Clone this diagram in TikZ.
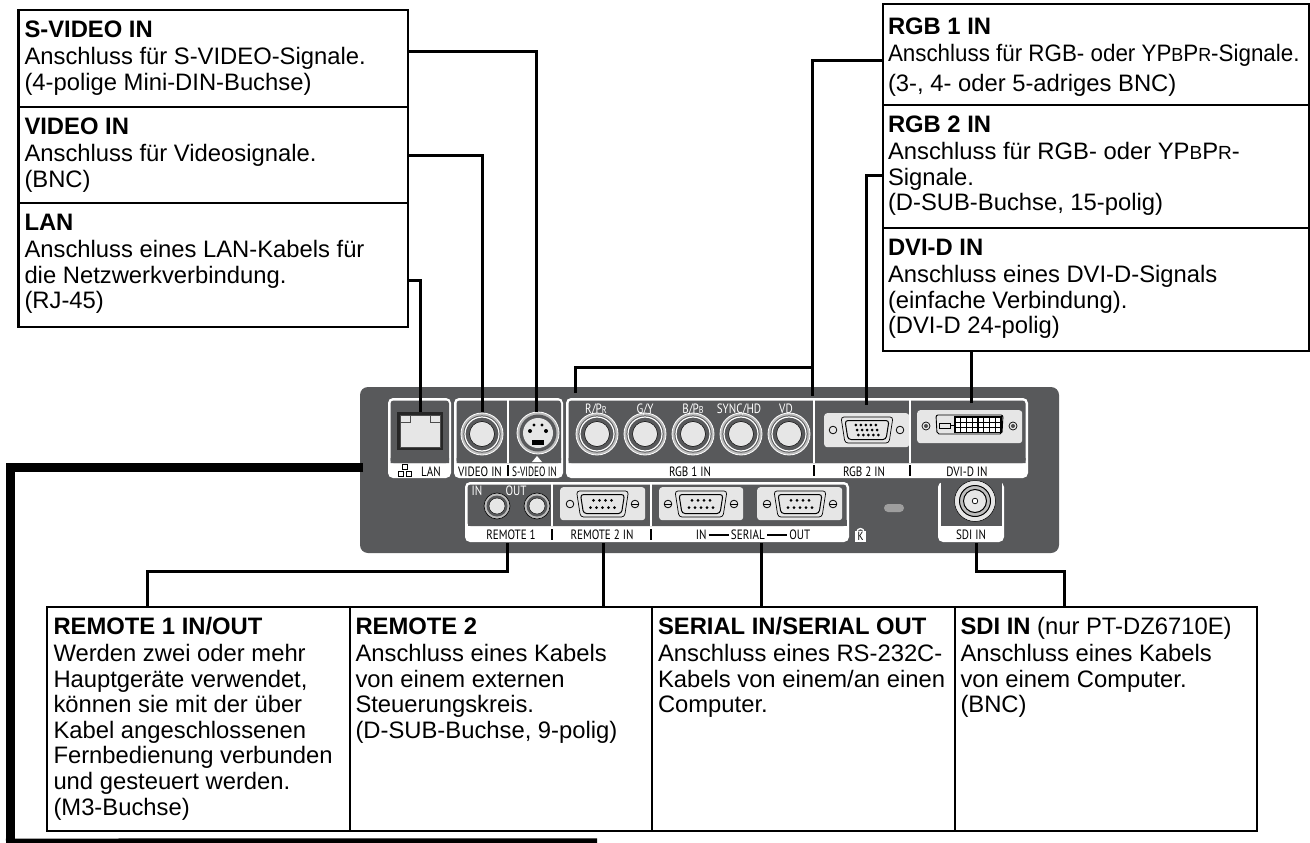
\documentclass[tikz,border=0pt]{standalone}
\usepackage{fontspec}
\usepackage{graphicx}
\setmainfont{Liberation Sans}
\newfontfamily\panelfont[FakeStretch=0.82]{PT Sans}
\usetikzlibrary{calc}
\definecolor{paneldark}{HTML}{58595B}
\definecolor{plate}{HTML}{E6E6E6}
\definecolor{ringgray}{HTML}{BDBDBD}
\tikzset{
  infobox/.style={draw=black,line width=2.4pt,anchor=north west,inner sep=0pt,outer sep=0pt,font=\fontsize{23.8}{25.6}\selectfont},
  conn/.style={draw=black,line width=3pt,line cap=butt,line join=miter},
  plabel/.style={font=\panelfont\fontsize{13.5}{14}\selectfont,text=#1,inner sep=0pt,anchor=base},
  plabel/.default=black,
  frameout/.style={fill=white,rounded corners=5pt,draw=none},
  frameinner/.style={fill=paneldark,draw=none},
}
% name, x, y, w, h, padding x, drop, text
\newcommand{\infonode}[8]{%
  \node[infobox,minimum width=#4pt,minimum height=#5pt] (#1) at (#2,#3)
  {\parbox[c][#5pt][t]{#4pt}{\leavevmode\vspace*{#7pt}\par\hspace*{#6pt}\begin{tabular}[t]{@{}l@{}}#8\end{tabular}}};}
\newcommand{\hd}[1]{\textbf{#1}\rule[-9pt]{0pt}{9pt}\\}
\newcommand{\sm}[1]{{\fontsize{19}{20}\selectfont #1}}
\newcommand{\bnc}[3]{%
  \node[circle,minimum size=42pt,inner sep=0pt,fill=ringgray,draw=white,line width=.8pt] (#1) at (#2,#3) {};
  \fill[paneldark] (#2,#3) circle[radius=18.6];
  \draw[white,line width=1.2pt] (#2,#3) circle[radius=17];
  \fill[plate,draw=black,line width=.5pt] (#2,#3) circle[radius=12.5];}
\newcommand{\dsub}[4]{% x,y,halfwidth,pins
  \begin{scope}[shift={(#1,#2)}]
   \draw[fill=plate,draw=black,line width=.7pt,rounded corners=3pt] (-#3,-13) -- (#3,-13) -- (#3-4,13) -- (-#3+4,13) -- cycle;
   \draw[fill=plate,draw=black,line width=1pt,rounded corners=3pt] (-#3+4,-9.5) -- (#3-4,-9.5) -- (#3-7,9.5) -- (-#3+7,9.5) -- cycle;
   #4
  \end{scope}}
\newcommand{\plate}[5]{\node[anchor=north west,minimum width=#4pt,minimum height=#5pt,inner sep=0pt,rounded corners=3pt,fill=plate,draw=none] (#1) at (#2,#3) {};}
\newcommand{\nine}{\foreach \px in {-9,-3,3,9}{\fill (\px,-3.6) circle[radius=1.5];}\foreach \px in {-12,-6,0,6,12}{\fill (\px,3.6) circle[radius=1.5];}}
\newcommand{\fifteen}{\foreach \py in {-5,0,5}{\foreach \px in {-10,-5,0,5,10}{\fill (\px+\py*.25,\py) circle[radius=1.5];}}}
\newcommand{\hole}[2]{\draw[fill=plate,draw=black,line width=.8pt] (#1,#2) circle[radius=3.8];}
\newcommand{\slothole}[2]{\draw[fill=plate,draw=black,line width=.8pt] (#1,#2) circle[radius=3.8];\draw[black,line width=.6pt] (#1-3.8,#2)--(#1+3.8,#2);}
\begin{document}
\begin{tikzpicture}[x=1pt,y=-1pt]
\useasboundingbox (0,0) rectangle (1310,843);
\fill[white] (0,0) rectangle (1310,843);
% ---------- panel
\fill[paneldark,rounded corners=8pt] (360,387) rectangle (1059,553);
% upper frames
\fill[frameout] (388,398) rectangle (451,478);
\fill[frameinner,rounded corners=3pt] (390.5,400.5) rectangle (449,463);
\fill[frameout] (454,398) rectangle (563,478);
\fill[frameinner,rounded corners=3pt] (456.5,400.5) rectangle (561,463);
\fill[frameout] (566,398) rectangle (1028,478);
\fill[frameinner,rounded corners=3pt] (568.5,400.5) rectangle (1025.5,463);
\fill[paneldark] (390.5,458) rectangle (449,463) (456.5,458) rectangle (561,463) (568.5,458) rectangle (1025.5,463);
\draw[white,line width=1.2pt] (508,400) -- (508,463) (814,400) -- (814,463) (910,400) -- (910,463);
\draw[black,line width=2pt] (508,465) -- (508,476) (814,465) -- (814,476) (910,465) -- (910,476);
% lower frames
\fill[frameout] (465,482) rectangle (849,542);
\fill[frameinner,rounded corners=3pt] (467.5,484.5) rectangle (846.5,526);
\fill[paneldark] (467.5,520) rectangle (846.5,526);
\draw[white,line width=1.2pt] (552,484) -- (552,526) (651,484) -- (651,526);
\draw[black,line width=2pt] (552,529) -- (552,540) (651,529) -- (651,540);
\fill[frameout] (938,482) rectangle (1004,542);
\fill[paneldark] (940.5,480) rectangle (1001.5,526);
% LAN jack
\node[anchor=north west,minimum width=46pt,minimum height=38pt,inner sep=0pt,fill=black!85] (lanjack) at (397,412) {};
\fill[plate] (400,415) rectangle (440,447);
\draw[black!70,line width=.6pt] (400,415) rectangle (440,447) (400,422) -- (410,422) -- (410,415) (430,415) -- (430,422) -- (440,422);
% jacks
\bnc{videojack}{482}{434}
\bnc{rjack}{597}{434}
\bnc{gjack}{645}{434}
\bnc{bjack}{693}{434}
\bnc{syncjack}{741}{434}
\bnc{vdjack}{789}{434}
% S-Video
\node[circle,minimum size=42pt,inner sep=0pt,fill=ringgray,draw=white,line width=.8pt] (svideojack) at (538,433) {};
\fill[paneldark] (538,433) circle[radius=18.5];
\fill[plate] (538,433) circle[radius=15];
\fill[black] (532,440) rectangle (544,445);
\fill[black] (530,431) circle[radius=2] (546,431) circle[radius=2] (534,425) circle[radius=1.6] (542,425) circle[radius=1.6];
\fill[white] (532,462) -- (542,462) -- (537,456) -- cycle;
% RGB2 plate
\plate{rgbplate}{824}{413}{85}{34}
\hole{833}{430}\hole{900}{430}
\dsub{867}{430}{26}{\fifteen}
% DVI
\plate{dviplate}{917}{410}{105}{33}
\draw[black,line width=.7pt,fill=plate] (926,426) circle[radius=4];\fill[black!70] (926,426) circle[radius=2];
\draw[black,line width=.7pt,fill=plate] (1013,426) circle[radius=4];\fill[black!70] (1013,426) circle[radius=2];
\draw[black,line width=.9pt,rounded corners=2pt] (936,415) -- (1003,415) -- (1002,434) -- (937,434) -- cycle;
\draw[black,line width=.9pt] (939,423) rectangle (950,428) (950,425.5) -- (955,425.5);
\draw[black,line width=1.1pt,fill=white] (955,417) rectangle (1001,432.5);
\foreach \gx in {960.75,966.5,972.25,978,983.75,989.5,995.25}{\draw[black,line width=1.1pt] (\gx,417)--(\gx,432.5);}
\foreach \gy in {422.2,427.4}{\draw[black,line width=1.1pt] (955,\gy)--(1001,\gy);}
% Remote 1
\foreach \jx/\jn in {497/remin,537/remout}{
  \node[circle,minimum size=26pt,inner sep=0pt,fill=ringgray,draw=black,line width=.6pt] (\jn) at (\jx,506) {};
  \fill[paneldark] (\jx,506) circle[radius=10.5];
  \fill[plate,draw=black,line width=.4pt] (\jx,506) circle[radius=8];}
% D-sub 9 plates
\plate{rem2plate}{560}{487}{85}{33}
\hole{570}{504}\slothole{635}{504}
\dsub{602.5}{504}{26}{\nine}
\plate{serinplate}{659}{487}{84}{33}
\slothole{668}{504}\slothole{734}{504}
\dsub{701}{504}{26}{\nine}
\plate{seroutplate}{757}{487}{85}{33}
\slothole{767}{504}\slothole{833}{504}
\dsub{800}{504}{26}{\nine}
% SDI
\node[circle,minimum size=41pt,inner sep=0pt,fill=plate,draw=black,line width=.5pt] (sdijack) at (975,501) {};
\draw[black,line width=1pt,fill=ringgray] (975,501) circle[radius=15.5];
\draw[black,line width=1pt,fill=plate] (975,501) circle[radius=11.5];
\draw[black,line width=.7pt,fill=white] (975,501) circle[radius=2.8];
% oval and lock
\fill[black!38,rounded corners=4pt] (884,504) rectangle (904,512);
\draw[white,line width=1.3pt] (857,532) arc[start angle=180,end angle=360,radius=3.5];
\node[fill=white,inner sep=0pt,minimum width=11pt,minimum height=11pt,font=\panelfont\fontsize{12}{12}\selectfont] (lock) at (860.5,536.5) {K};
% LAN icon
\foreach \ix/\iy in {402/464,398/471,406/471}{\draw[black,line width=.7pt] (\ix,\iy) rectangle ++(5,5);}
% panel labels
\node[plabel] (tlan) at (431,476) {LAN};
\node[plabel] (tvideo) at (480,476) {VIDEO IN};
\node[plabel] (tsvideo) at (534.5,476) {\scalebox{.84}[1]{S-VIDEO IN}};
\node[plabel=white] (tr) at (596,413) {R/P{\fontsize{10}{10}\selectfont R}};
\node[plabel=white] (tg) at (645,413) {G/Y};
\node[plabel=white] (tb) at (693,413) {B/P{\fontsize{10}{10}\selectfont B}};
\node[plabel=white] (tsync) at (739,413) {SYNC/HD};
\node[plabel=white] (tvd) at (786,413) {VD};
\node[plabel] (trgb1) at (690,476) {RGB 1 IN};
\node[plabel] (trgb2) at (864,476) {RGB 2 IN};
\node[plabel] (tdvi) at (967,476) {DVI-D IN};
\node[plabel=white] (tin) at (477,495) {IN};
\node[plabel=white] (tout) at (516,495) {OUT};
\node[plabel] (trem1) at (511,539) {REMOTE 1};
\node[plabel] (trem2) at (602,539) {REMOTE 2 IN};
\node[plabel] (tserial) at (753,539) {IN\,\rule[3.2pt]{20pt}{1.4pt}\,SERIAL\,\rule[3.2pt]{20pt}{1.4pt}\,OUT};
\node[plabel] (tsdi) at (971,539) {SDI IN};
% ---------- info boxes
\infonode{sv}{18.5}{10}{389.5}{97}{6}{2}{\hd{S-VIDEO IN}Anschluss für S-VIDEO-Signale.\\(4-polige Mini-DIN-Buchse)}
\infonode{vi}{18.5}{107}{389.5}{96}{6}{2}{\hd{VIDEO IN}Anschluss für Videosignale.\\(BNC)}
\infonode{lan}{18.5}{203}{389.5}{124}{6}{2}{\hd{LAN}Anschluss eines LAN-Kabels für\\die Netzwerkverbindung.\\(RJ-45)}
\infonode{rgba}{883}{4}{426}{101}{5}{5}{\hd{RGB 1 IN}\scalebox{0.94}[1]{Anschluss für RGB- oder YP\sm{B}P\sm{R}-Signale.}\\[4pt](3-, 4- oder 5-adriges BNC)}
\infonode{rgbb}{883}{105}{426}{123}{5}{2}{\hd{RGB 2 IN}Anschluss für RGB- oder YP\sm{B}P\sm{R}-\\Signale.\\(D-SUB-Buchse, 15-polig)}
\infonode{dvi}{883}{228}{426}{123}{5}{2}{\hd{DVI-D IN}Anschluss eines DVI-D-Signals\\(einfache Verbindung).\\(DVI-D 24-polig)}
\infonode{rem}{47}{607}{303}{224}{6.5}{2}{\hd{REMOTE 1 IN/OUT}Werden zwei oder mehr\\Hauptgeräte verwendet,\\können sie mit der über\\Kabel angeschlossenen\\Fernbedienung verbunden\\und gesteuert werden.\\(M3-Buchse)}
\infonode{remb}{350}{607}{302}{224}{5.5}{2}{\hd{REMOTE 2}Anschluss eines Kabels\\von einem externen\\Steuerungskreis.\\(D-SUB-Buchse, 9-polig)}
\infonode{ser}{652}{607}{303}{224}{6}{2}{\hd{SERIAL IN/SERIAL OUT}Anschluss eines RS-232C-\\Kabels von einem/an einen\\Computer.}
\infonode{sdi}{955}{607}{302}{224}{5.5}{2}{\hd{SDI IN \textmd{(nur PT-DZ6710E)}}Anschluss eines Kabels\\von einem Computer.\\(BNC)}
% ---------- connectors
\coordinate (svend) at (536,412);
\coordinate (viend) at (482.5,412);
\coordinate (lanend) at (420,412);
\coordinate (rgbl) at (575.7,393);
\coordinate (rgbr) at (812,396);
\coordinate (rgbtop) at (813.5,367);
\coordinate (rgbbend) at (866,405);
\coordinate (dviend) at (971,403);
\coordinate (rem1end) at (507,543);
\coordinate (rem2end) at (603,543);
\coordinate (serend) at (761,543);
\coordinate (sdiend) at (976,543);
\coordinate (lrail) at (363,467.5);
\coordinate (lbot) at (597,840.5);
\coordinate (remknee) at (147,571);
\coordinate (sdiknee) at (1064,571);
\draw[conn] ($(sv.north east)+(0,42)$) -| (svend);
\draw[conn] ($(vi.north east)+(0,48)$) -| (viend);
\draw[conn] ($(lan.north east)+(0,77)$) -| (lanend);
\draw[conn] ($(rgba.north west)+(0,57)$) -| (rgbr);
\draw[conn] (rgbl) |- (rgbtop);
\draw[conn] ($(rgbb.north west)+(0,70)$) -| (rgbbend);
\draw[conn] (dviend) -- (dviend |- dvi.south);
\draw[conn] (rem1end) |- (remknee) -- (remknee |- rem.north);
\draw[conn] (rem2end) -- (rem2end |- remb.north);
\draw[conn] (serend) -- (serend |- ser.north);
\draw[conn] (sdiend) |- (sdiknee) -- (sdiknee |- sdi.north);
\draw[black,line width=9pt] (lrail) -- (10,467.5) -- (10,841);
\draw[black,line width=4.5pt] (6,840.8) -- (lbot);
\end{tikzpicture}
\end{document}
